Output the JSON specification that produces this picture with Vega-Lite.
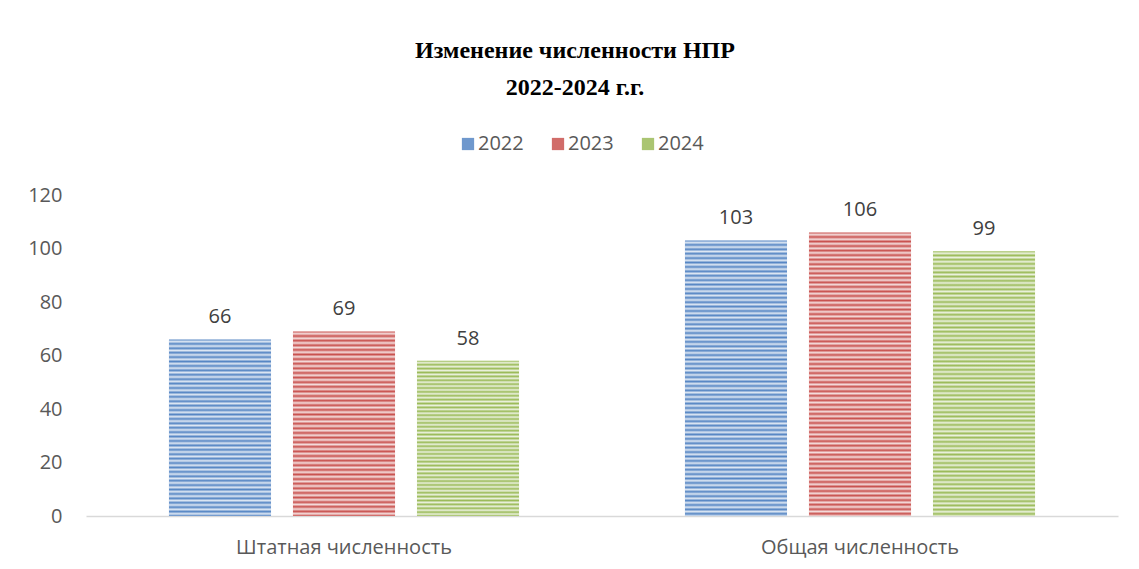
{
  "$schema": "https://vega.github.io/schema/vega-lite/v6.json",
  "width": 1032,
  "height": 321,
  "autosize": {"type": "none"},
  "padding": {"left": 86, "top": 195, "right": 21, "bottom": 53},
  "background": "white",
  "title": {
    "text": ["Изменение численности НПР", "2022-2024 г.г."],
    "font": "Liberation Serif",
    "fontSize": 24,
    "fontWeight": "bold",
    "color": "#000000",
    "lineHeight": 37,
    "anchor": "middle",
    "frame": "group",
    "dx": -27,
    "offset": 34
  },
  "data": {
    "values": [
      {"category": "Штатная численность", "year": "2022", "value": 66},
      {"category": "Штатная численность", "year": "2023", "value": 69},
      {"category": "Штатная численность", "year": "2024", "value": 58},
      {"category": "Общая численность", "year": "2022", "value": 103},
      {"category": "Общая численность", "year": "2023", "value": 106},
      {"category": "Общая численность", "year": "2024", "value": 99}
    ]
  },
  "encoding": {
    "x": {
      "field": "category",
      "type": "nominal",
      "sort": ["Штатная численность", "Общая численность"],
      "scale": {"paddingInner": 0, "paddingOuter": 0},
      "axis": {
        "title": null,
        "labelAngle": 0,
        "labelFont": "Open Sans",
        "labelFontSize": 20,
        "labelColor": "#595959",
        "labelPadding": 21,
        "labelLimit": 0,
        "ticks": false,
        "domainColor": "#d9d9d9",
        "domainWidth": 1.5
      }
    },
    "xOffset": {
      "field": "year",
      "type": "nominal",
      "sort": ["2022", "2023", "2024"],
      "scale": {"paddingInner": 0.177, "paddingOuter": 0.669}
    },
    "y": {
      "field": "value",
      "type": "quantitative",
      "scale": {"domain": [0, 120]},
      "axis": {
        "title": null,
        "values": [0, 20, 40, 60, 80, 100, 120],
        "labelFont": "Open Sans",
        "labelFontSize": 20,
        "labelColor": "#595959",
        "labelPadding": 24,
        "ticks": false,
        "domain": false,
        "grid": false
      }
    }
  },
  "layer": [
    {
      "mark": {"type": "bar"},
      "encoding": {
        "color": {
          "field": "year",
          "type": "nominal",
          "sort": ["2022", "2023", "2024"],
          "scale": {"range": ["#5686c4", "#c9524f", "#9bbb59"]},
          "legend": {
            "title": null,
            "orient": "none",
            "direction": "horizontal",
            "legendX": 372,
            "legendY": -61,
            "symbolType": "square",
            "symbolSize": 150,
            "symbolStrokeWidth": 0,
            "symbolOpacity": 0.85,
            "labelFont": "Open Sans",
            "labelFontSize": 20,
            "labelColor": "#595959",
            "columnPadding": 24,
            "labelOffset": 0
          }
        }
      }
    },
    {
      "mark": {"type": "bar"},
      "encoding": {
        "fill": {
          "condition": {
            "test": "datum.value > 80",
            "value": {
              "gradient": "linear", "x1": 0, "y1": 0, "x2": 0, "y2": 1,
              "stops": [
                {"offset": 0, "color": "#fff0"}, {"offset": 0.008, "color": "#fffc"}, {"offset": 0.016, "color": "#fff0"}, {"offset": 0.024, "color": "#fffc"}, {"offset": 0.032, "color": "#fff0"}, {"offset": 0.04, "color": "#fffc"}, {"offset": 0.048, "color": "#fff0"}, {"offset": 0.056, "color": "#fffc"}, {"offset": 0.064, "color": "#fff0"}, {"offset": 0.072, "color": "#fffc"},
                {"offset": 0.08, "color": "#fff0"}, {"offset": 0.088, "color": "#fffc"}, {"offset": 0.096, "color": "#fff0"}, {"offset": 0.104, "color": "#fffc"}, {"offset": 0.112, "color": "#fff0"}, {"offset": 0.12, "color": "#fffc"}, {"offset": 0.128, "color": "#fff0"}, {"offset": 0.136, "color": "#fffc"}, {"offset": 0.144, "color": "#fff0"}, {"offset": 0.152, "color": "#fffc"},
                {"offset": 0.16, "color": "#fff0"}, {"offset": 0.168, "color": "#fffc"}, {"offset": 0.176, "color": "#fff0"}, {"offset": 0.184, "color": "#fffc"}, {"offset": 0.192, "color": "#fff0"}, {"offset": 0.2, "color": "#fffc"}, {"offset": 0.208, "color": "#fff0"}, {"offset": 0.216, "color": "#fffc"}, {"offset": 0.224, "color": "#fff0"}, {"offset": 0.232, "color": "#fffc"},
                {"offset": 0.24, "color": "#fff0"}, {"offset": 0.248, "color": "#fffc"}, {"offset": 0.256, "color": "#fff0"}, {"offset": 0.264, "color": "#fffc"}, {"offset": 0.272, "color": "#fff0"}, {"offset": 0.28, "color": "#fffc"}, {"offset": 0.288, "color": "#fff0"}, {"offset": 0.296, "color": "#fffc"}, {"offset": 0.304, "color": "#fff0"}, {"offset": 0.312, "color": "#fffc"},
                {"offset": 0.32, "color": "#fff0"}, {"offset": 0.328, "color": "#fffc"}, {"offset": 0.336, "color": "#fff0"}, {"offset": 0.344, "color": "#fffc"}, {"offset": 0.352, "color": "#fff0"}, {"offset": 0.36, "color": "#fffc"}, {"offset": 0.368, "color": "#fff0"}, {"offset": 0.376, "color": "#fffc"}, {"offset": 0.384, "color": "#fff0"}, {"offset": 0.392, "color": "#fffc"},
                {"offset": 0.4, "color": "#fff0"}, {"offset": 0.408, "color": "#fffc"}, {"offset": 0.416, "color": "#fff0"}, {"offset": 0.424, "color": "#fffc"}, {"offset": 0.432, "color": "#fff0"}, {"offset": 0.44, "color": "#fffc"}, {"offset": 0.448, "color": "#fff0"}, {"offset": 0.456, "color": "#fffc"}, {"offset": 0.464, "color": "#fff0"}, {"offset": 0.472, "color": "#fffc"},
                {"offset": 0.48, "color": "#fff0"}, {"offset": 0.488, "color": "#fffc"}, {"offset": 0.496, "color": "#fff0"}, {"offset": 0.504, "color": "#fffc"}, {"offset": 0.512, "color": "#fff0"}, {"offset": 0.52, "color": "#fffc"}, {"offset": 0.528, "color": "#fff0"}, {"offset": 0.536, "color": "#fffc"}, {"offset": 0.544, "color": "#fff0"}, {"offset": 0.552, "color": "#fffc"},
                {"offset": 0.56, "color": "#fff0"}, {"offset": 0.568, "color": "#fffc"}, {"offset": 0.576, "color": "#fff0"}, {"offset": 0.584, "color": "#fffc"}, {"offset": 0.592, "color": "#fff0"}, {"offset": 0.6, "color": "#fffc"}, {"offset": 0.608, "color": "#fff0"}, {"offset": 0.616, "color": "#fffc"}, {"offset": 0.624, "color": "#fff0"}, {"offset": 0.632, "color": "#fffc"},
                {"offset": 0.64, "color": "#fff0"}, {"offset": 0.648, "color": "#fffc"}, {"offset": 0.656, "color": "#fff0"}, {"offset": 0.664, "color": "#fffc"}, {"offset": 0.672, "color": "#fff0"}, {"offset": 0.68, "color": "#fffc"}, {"offset": 0.688, "color": "#fff0"}, {"offset": 0.696, "color": "#fffc"}, {"offset": 0.704, "color": "#fff0"}, {"offset": 0.712, "color": "#fffc"},
                {"offset": 0.72, "color": "#fff0"}, {"offset": 0.728, "color": "#fffc"}, {"offset": 0.736, "color": "#fff0"}, {"offset": 0.744, "color": "#fffc"}, {"offset": 0.752, "color": "#fff0"}, {"offset": 0.76, "color": "#fffc"}, {"offset": 0.768, "color": "#fff0"}, {"offset": 0.776, "color": "#fffc"}, {"offset": 0.784, "color": "#fff0"}, {"offset": 0.792, "color": "#fffc"},
                {"offset": 0.8, "color": "#fff0"}, {"offset": 0.808, "color": "#fffc"}, {"offset": 0.816, "color": "#fff0"}, {"offset": 0.824, "color": "#fffc"}, {"offset": 0.832, "color": "#fff0"}, {"offset": 0.84, "color": "#fffc"}, {"offset": 0.848, "color": "#fff0"}, {"offset": 0.856, "color": "#fffc"}, {"offset": 0.864, "color": "#fff0"}, {"offset": 0.872, "color": "#fffc"},
                {"offset": 0.88, "color": "#fff0"}, {"offset": 0.888, "color": "#fffc"}, {"offset": 0.896, "color": "#fff0"}, {"offset": 0.904, "color": "#fffc"}, {"offset": 0.912, "color": "#fff0"}, {"offset": 0.92, "color": "#fffc"}, {"offset": 0.928, "color": "#fff0"}, {"offset": 0.936, "color": "#fffc"}, {"offset": 0.944, "color": "#fff0"}, {"offset": 0.952, "color": "#fffc"},
                {"offset": 0.96, "color": "#fff0"}, {"offset": 0.968, "color": "#fffc"}, {"offset": 0.976, "color": "#fff0"}, {"offset": 0.984, "color": "#fffc"}, {"offset": 0.992, "color": "#fff0"}, {"offset": 1, "color": "#fffc"}
              ]
            }
          },
          "value": {
            "gradient": "linear", "x1": 0, "y1": 0, "x2": 0, "y2": 1,
            "stops": [
              {"offset": 0, "color": "#fff0"}, {"offset": 0.0125, "color": "#fffc"}, {"offset": 0.025, "color": "#fff0"}, {"offset": 0.0375, "color": "#fffc"}, {"offset": 0.05, "color": "#fff0"}, {"offset": 0.0625, "color": "#fffc"}, {"offset": 0.075, "color": "#fff0"}, {"offset": 0.0875, "color": "#fffc"},
              {"offset": 0.1, "color": "#fff0"}, {"offset": 0.1125, "color": "#fffc"}, {"offset": 0.125, "color": "#fff0"}, {"offset": 0.1375, "color": "#fffc"}, {"offset": 0.15, "color": "#fff0"}, {"offset": 0.1625, "color": "#fffc"}, {"offset": 0.175, "color": "#fff0"}, {"offset": 0.1875, "color": "#fffc"},
              {"offset": 0.2, "color": "#fff0"}, {"offset": 0.2125, "color": "#fffc"}, {"offset": 0.225, "color": "#fff0"}, {"offset": 0.2375, "color": "#fffc"}, {"offset": 0.25, "color": "#fff0"}, {"offset": 0.2625, "color": "#fffc"}, {"offset": 0.275, "color": "#fff0"}, {"offset": 0.2875, "color": "#fffc"},
              {"offset": 0.3, "color": "#fff0"}, {"offset": 0.3125, "color": "#fffc"}, {"offset": 0.325, "color": "#fff0"}, {"offset": 0.3375, "color": "#fffc"}, {"offset": 0.35, "color": "#fff0"}, {"offset": 0.3625, "color": "#fffc"}, {"offset": 0.375, "color": "#fff0"}, {"offset": 0.3875, "color": "#fffc"},
              {"offset": 0.4, "color": "#fff0"}, {"offset": 0.4125, "color": "#fffc"}, {"offset": 0.425, "color": "#fff0"}, {"offset": 0.4375, "color": "#fffc"}, {"offset": 0.45, "color": "#fff0"}, {"offset": 0.4625, "color": "#fffc"}, {"offset": 0.475, "color": "#fff0"}, {"offset": 0.4875, "color": "#fffc"},
              {"offset": 0.5, "color": "#fff0"}, {"offset": 0.5125, "color": "#fffc"}, {"offset": 0.525, "color": "#fff0"}, {"offset": 0.5375, "color": "#fffc"}, {"offset": 0.55, "color": "#fff0"}, {"offset": 0.5625, "color": "#fffc"}, {"offset": 0.575, "color": "#fff0"}, {"offset": 0.5875, "color": "#fffc"},
              {"offset": 0.6, "color": "#fff0"}, {"offset": 0.6125, "color": "#fffc"}, {"offset": 0.625, "color": "#fff0"}, {"offset": 0.6375, "color": "#fffc"}, {"offset": 0.65, "color": "#fff0"}, {"offset": 0.6625, "color": "#fffc"}, {"offset": 0.675, "color": "#fff0"}, {"offset": 0.6875, "color": "#fffc"},
              {"offset": 0.7, "color": "#fff0"}, {"offset": 0.7125, "color": "#fffc"}, {"offset": 0.725, "color": "#fff0"}, {"offset": 0.7375, "color": "#fffc"}, {"offset": 0.75, "color": "#fff0"}, {"offset": 0.7625, "color": "#fffc"}, {"offset": 0.775, "color": "#fff0"}, {"offset": 0.7875, "color": "#fffc"},
              {"offset": 0.8, "color": "#fff0"}, {"offset": 0.8125, "color": "#fffc"}, {"offset": 0.825, "color": "#fff0"}, {"offset": 0.8375, "color": "#fffc"}, {"offset": 0.85, "color": "#fff0"}, {"offset": 0.8625, "color": "#fffc"}, {"offset": 0.875, "color": "#fff0"}, {"offset": 0.8875, "color": "#fffc"},
              {"offset": 0.9, "color": "#fff0"}, {"offset": 0.9125, "color": "#fffc"}, {"offset": 0.925, "color": "#fff0"}, {"offset": 0.9375, "color": "#fffc"}, {"offset": 0.95, "color": "#fff0"}, {"offset": 0.9625, "color": "#fffc"}, {"offset": 0.975, "color": "#fff0"}, {"offset": 0.9875, "color": "#fffc"},
              {"offset": 1, "color": "#fff0"}
            ]
          }
        }
      }
    },
    {
      "mark": {
        "type": "text",
        "baseline": "bottom",
        "dy": -12,
        "font": "Open Sans",
        "fontSize": 20,
        "color": "#404040"
      },
      "encoding": {
        "text": {"field": "value", "type": "quantitative"}
      }
    }
  ],
  "config": {"view": {"stroke": null}}
}
